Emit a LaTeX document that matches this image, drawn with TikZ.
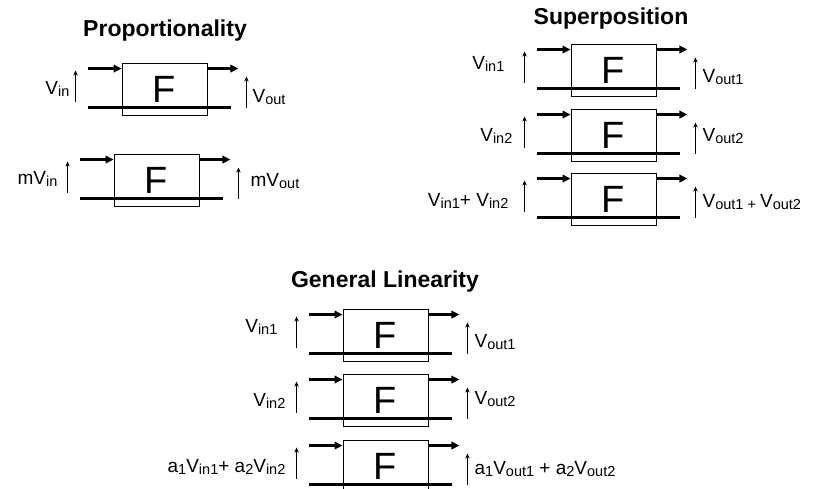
\documentclass[tikz,border=0pt]{standalone}
\usepackage{fontspec}
\setmainfont{Liberation Sans}
\usetikzlibrary{calc,arrows.meta}
\newcommand\sub[1]{\raisebox{-2pt}{\fontsize{14.5}{16}\selectfont #1}}

\begin{document}
\begin{tikzpicture}
	[   x=1pt,y=-1pt,
	    fbox/.style={draw=black,line width=0.9pt,minimum width=85pt,minimum height=52pt,inner sep=0pt,font=\fontsize{38}{40}\selectfont},
	    lbl/.style={inner sep=0pt,font=\fontsize{19}{21}\selectfont},
	    title/.style={inner sep=0pt,anchor=base,font=\fontsize{23}{26}\selectfont\bfseries},
	]
	\tikzset{wire/.style={draw,line width=2.2pt},
		sig arrow/.style={wire,-{Triangle[length=8pt,width=7.5pt]}},
		volt arrow/.style={draw,line width=0.8pt,-{Stealth[length=5pt,width=4.5pt]}}}
	\useasboundingbox (0,0) rectangle (816,489);
	\clip (0,0) rectangle (816,489);
	
	\node[title] (t-prop) at (165,37) {Proportionality};
	\node[title] (t-sup) at (611,25) {Superposition};
	\node[title] (t-lin) at (385,287) {General Linearity};
	
	% blocks: name/left/top
	\foreach \n/\x/\y in {p1/122/63, p2/114/154, s1/571/44, s2/571/109, s3/571/173, g1/343/309, g2/343/374, g3/343/440}
	{
		\node[fbox] (\n) at (\x+42.5,\y+26) {F};
		\coordinate (\n-a) at ($(\n.north west)+(-34,6)$);
		\coordinate (\n-b) at ($(\n.north east)+(31,6)$);
		\coordinate (\n-c) at ($(\n.north west)+(-34,45)$);
		\coordinate (\n-d) at ($(\n.north east)+(24,45)$);
		\coordinate (\n-e) at ($(\n.north west)+(-46,39)$);
		\coordinate (\n-f) at ($(\n.north west)+(-46,8)$);
		\coordinate (\n-g) at ($(\n.north east)+(39,45)$);
		\coordinate (\n-h) at ($(\n.north east)+(39,14)$);
		\path[sig arrow] (\n-a) -- (\n-a -| \n.west);
		\path[sig arrow] (\n-a -| \n.east) -- (\n-b);
		\path[wire] (\n-c) -- (\n-d);
		\path[volt arrow] (\n-e) -- (\n-f);
		\path[volt arrow] (\n-g) -- (\n-h);
	}
	
	% input / output labels
	\node[lbl,anchor=base east] (p1-in) at ($(p1.north west)+(-52,32)$) {V\sub{in}};
	\node[lbl,anchor=base west] (p1-out) at ($(p1.north east)+(45,40)$) {V\sub{out}};
	\node[lbl,anchor=base east] (p2-in) at ($(p2.north west)+(-56,31)$) {mV\sub{in}};
	\node[lbl,anchor=base west] (p2-out) at ($(p2.north east)+(51,33)$) {mV\sub{out}};
	
	\node[lbl,anchor=base east] (s1-in) at ($(s1.north west)+(-66,26)$) {V\sub{in1}};
	\node[lbl,anchor=base west] (s1-out) at ($(s1.north east)+(46,39)$) {V\sub{out1}};
	\node[lbl,anchor=base east] (s2-in) at ($(s2.north west)+(-58,33)$) {V\sub{in2}};
	\node[lbl,anchor=base west] (s2-out) at ($(s2.north east)+(46,33)$) {V\sub{out2}};
	\node[lbl,anchor=base east] (s3-in) at ($(s3.north west)+(-62,34)$) {V\sub{in1}+ V\sub{in2}};
	\node[lbl,anchor=base west] (s3-out) at ($(s3.north east)+(46,35)$) {V\sub{out1 + }V\sub{out2}};
	
	\node[lbl,anchor=base east] (g1-in) at ($(g1.north west)+(-65,24)$) {V\sub{in1}};
	\node[lbl,anchor=base west] (g1-out) at ($(g1.north east)+(46,39)$) {V\sub{out1}};
	\node[lbl,anchor=base east] (g2-in) at ($(g2.north west)+(-57,33)$) {V\sub{in2}};
	\node[lbl,anchor=base west] (g2-out) at ($(g2.north east)+(46,31)$) {V\sub{out2}};
	\node[lbl,anchor=base east] (g3-in) at ($(g3.north west)+(-57,33)$) {a\sub{1}V\sub{in1}+ a\sub{2}V\sub{in2}};
	\node[lbl,anchor=base west] (g3-out) at ($(g3.north east)+(46,35)$) {a\sub{1}V\sub{out1} + a\sub{2}V\sub{out2}};
\end{tikzpicture}
\end{document}
